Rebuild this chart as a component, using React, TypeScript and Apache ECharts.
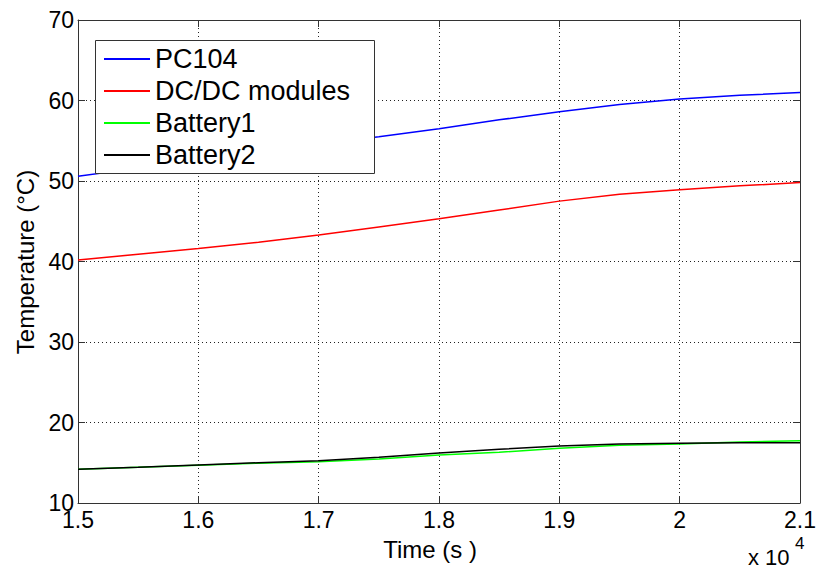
import React, { useEffect, useRef } from "react";
import * as echarts from "echarts";

const timeSeconds = [15000, 15500, 16000, 16500, 17000, 17500, 18000, 18500, 19000, 19500, 20000, 20500, 21000];
const pc104 = [50.6, 51.6, 52.6, 53.6, 54.6, 55.5, 56.5, 57.6, 58.6, 59.5, 60.2, 60.65, 61.0];
const dcdc = [40.2, 40.9, 41.6, 42.4, 43.3, 44.3, 45.3, 46.4, 47.5, 48.35, 48.9, 49.4, 49.8];
const battery1 = [14.2, 14.45, 14.7, 14.95, 15.13, 15.47, 15.95, 16.3, 16.79, 17.17, 17.33, 17.58, 17.74];
const battery2 = [14.2, 14.43, 14.72, 15.0, 15.25, 15.67, 16.2, 16.67, 17.08, 17.33, 17.42, 17.48, 17.5];
const seriesNames = ["PC104", "DC/DC modules", "Battery1", "Battery2"];
const seriesColors = ["#0000ff", "#ff0000", "#00ff00", "#000000"];

const FONT = "'Liberation Sans', Arial, Helvetica, sans-serif";

export default function App() {
  const ref = useRef<HTMLDivElement>(null);
  useEffect(() => {
    document.body.style.margin = "0";
    const chart = echarts.init(ref.current!, null, { renderer: "svg" });
    const values = [pc104, dcdc, battery1, battery2];
    const axisLineStyle = { color: "#333333", width: 1 };
    const gridLine = { show: true, lineStyle: { color: "#222222", type: [1, 3] as any, width: 1 } };
    const option: any = {
      animation: false,
      backgroundColor: "#ffffff",
      textStyle: { fontFamily: FONT },
      grid: { left: 78, top: 20, right: 14, bottom: 68, containLabel: false },
      xAxis: [
        {
          type: "value",
          min: 15000,
          max: 21000,
          interval: 1000,
          position: "bottom",
          axisLine: { show: true, onZero: false, lineStyle: axisLineStyle },
          axisTick: { show: true, inside: true, length: 7, lineStyle: axisLineStyle },
          axisLabel: {
            show: true,
            margin: 5,
            color: "#000",
            fontSize: 23,
            fontFamily: FONT,
            showMinLabel: true,
            showMaxLabel: true,
            formatter: (v: number) => String(v / 10000),
          },
          splitLine: gridLine,
        },
        {
          type: "value",
          min: 15000,
          max: 21000,
          interval: 1000,
          position: "top",
          axisLine: { show: true, onZero: false, lineStyle: axisLineStyle },
          axisTick: { show: true, inside: true, length: 7, lineStyle: axisLineStyle },
          axisLabel: { show: false },
          splitLine: { show: false },
        },
      ],
      yAxis: [
        {
          type: "value",
          min: 10,
          max: 70,
          interval: 10,
          position: "left",
          axisLine: { show: true, onZero: false, lineStyle: axisLineStyle },
          axisTick: { show: true, inside: true, length: 7, lineStyle: axisLineStyle },
          axisLabel: {
            show: true,
            margin: 4,
            color: "#000",
            fontSize: 23,
            fontFamily: FONT,
            showMinLabel: true,
            showMaxLabel: true,
          },
          splitLine: gridLine,
        },
        {
          type: "value",
          min: 10,
          max: 70,
          interval: 10,
          position: "right",
          axisLine: { show: true, onZero: false, lineStyle: axisLineStyle },
          axisTick: { show: true, inside: true, length: 7, lineStyle: axisLineStyle },
          axisLabel: { show: false },
          splitLine: { show: false },
        },
      ],
      legend: {
        show: true,
        orient: "vertical",
        left: 104,
        top: 45,
        padding: 0,
        itemGap: 4,
        itemWidth: 46,
        itemHeight: 2,
        itemTextGap: 6,
        icon: "rect",
        textStyle: { fontSize: 27, lineHeight: 28, color: "#000", fontFamily: FONT },
        data: seriesNames,
      },
      graphic: [
        {
          type: "rect",
          left: 95,
          top: 40,
          z: 2,
          zlevel: 0,
          shape: { x: 0, y: 0, width: 279, height: 133 },
          style: { fill: "#ffffff", stroke: "#333333", lineWidth: 1 },
        },
        {
          type: "text",
          x: 25,
          y: 262,
          rotation: Math.PI / 2,
          style: {
            text: "Temperature (°C)",
            fontSize: 24,
            fontFamily: FONT,
            fill: "#000",
            align: "center",
            verticalAlign: "middle",
          },
        },
        {
          type: "text",
          x: 430,
          y: 549,
          style: {
            text: "Time (s )",
            fontSize: 24,
            fontFamily: FONT,
            fill: "#000",
            align: "center",
            verticalAlign: "middle",
          },
        },
        {
          type: "text",
          x: 748,
          y: 557,
          style: {
            text: "x 10",
            fontSize: 22,
            fontFamily: FONT,
            fill: "#000",
            align: "left",
            verticalAlign: "middle",
          },
        },
        {
          type: "text",
          x: 795,
          y: 543,
          style: {
            text: "4",
            fontSize: 17,
            fontFamily: FONT,
            fill: "#000",
            align: "left",
            verticalAlign: "middle",
          },
        },
      ],
      series: seriesNames.map((name, i) => ({
        name,
        type: "line",
        xAxisIndex: 0,
        yAxisIndex: 0,
        showSymbol: false,
        symbol: "none",
        z: 1,
        color: seriesColors[i],
        lineStyle: { color: seriesColors[i], width: 1.5 },
        itemStyle: { color: seriesColors[i] },
        data: timeSeconds.map((t, j) => [t, values[i][j]]),
      })),
    };
    chart.setOption(option);
    return () => chart.dispose();
  }, []);
  return <div ref={ref} style={{ width: 819, height: 571, position: "absolute", left: 0, top: 0 }} />;
}
